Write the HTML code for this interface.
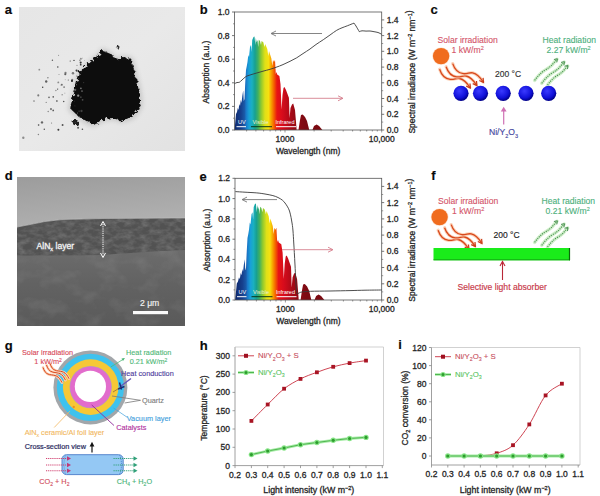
<!DOCTYPE html>
<html><head><meta charset="utf-8"><style>
html,body{margin:0;padding:0;background:#fff;}
svg{display:block;font-family:"Liberation Sans", sans-serif;}
</style></head><body>
<svg width="600" height="496" viewBox="0 0 600 496">
<rect width="600" height="496" fill="#fff"/>
<text x="4.8" y="14.0" font-size="13" fill="#0a0a0a" stroke="#0a0a0a" stroke-width="0.15" text-anchor="start" font-weight="bold" >a</text>
<text x="199.8" y="14.0" font-size="13" fill="#0a0a0a" stroke="#0a0a0a" stroke-width="0.15" text-anchor="start" font-weight="bold" >b</text>
<text x="430.6" y="14.0" font-size="13" fill="#0a0a0a" stroke="#0a0a0a" stroke-width="0.15" text-anchor="start" font-weight="bold" >c</text>
<text x="4.8" y="180.0" font-size="13" fill="#0a0a0a" stroke="#0a0a0a" stroke-width="0.15" text-anchor="start" font-weight="bold" >d</text>
<text x="199.6" y="180.5" font-size="13" fill="#0a0a0a" stroke="#0a0a0a" stroke-width="0.15" text-anchor="start" font-weight="bold" >e</text>
<text x="431.2" y="179.6" font-size="13" fill="#0a0a0a" stroke="#0a0a0a" stroke-width="0.15" text-anchor="start" font-weight="bold" >f</text>
<text x="4.8" y="349.8" font-size="13" fill="#0a0a0a" stroke="#0a0a0a" stroke-width="0.15" text-anchor="start" font-weight="bold" >g</text>
<text x="199.8" y="350.0" font-size="13" fill="#0a0a0a" stroke="#0a0a0a" stroke-width="0.15" text-anchor="start" font-weight="bold" >h</text>
<text x="398.2" y="349.2" font-size="13" fill="#0a0a0a" stroke="#0a0a0a" stroke-width="0.15" text-anchor="start" font-weight="bold" >i</text>
<defs><linearGradient id="bgA" x1="0" y1="0" x2="1" y2="1"><stop offset="0" stop-color="#e6e6e6"/><stop offset="0.5" stop-color="#e9e9e9"/><stop offset="1" stop-color="#e2e2e2"/></linearGradient><filter id="blur1"><feGaussianBlur stdDeviation="1.2"/></filter><filter id="blur05"><feGaussianBlur stdDeviation="0.5"/></filter><filter id="blur2"><feGaussianBlur stdDeviation="2.5"/></filter></defs>
<rect x="19" y="7" width="166" height="144" fill="url(#bgA)"/>
<defs><filter id="rough" x="-20%" y="-20%" width="140%" height="140%"><feTurbulence type="fractalNoise" baseFrequency="0.35" numOctaves="2" seed="4"/><feDisplacementMap in="SourceGraphic" scale="5"/><feGaussianBlur stdDeviation="0.5"/></filter></defs>
<polygon points="102.3,47.7 106.1,49.8 110.9,52.0 114.5,56.2 118.4,58.3 122.0,55.1 125.9,56.2 132.2,57.3 134.7,64.7 136.6,73.2 138.9,81.6 140.8,90.5 142.1,98.6 141.9,107.6 137.9,113.4 134.4,118.3 127.3,120.9 121.5,122.6 113.5,119.8 106.6,120.4 99.7,123.0 93.8,126.9 87.0,124.0 80.9,120.4 74.3,115.6 68.1,109.7 70.0,100.7 72.5,92.7 75.3,81.6 78.8,71.4 83.8,65.7 89.5,60.7 94.4,56.2 98.1,54.1" fill="#9a9a9a" opacity="0.45" filter="url(#blur2)"/>
<g filter="url(#rough)">
<polygon points="102.5,50.0 106.0,52.0 110.6,54.0 114.0,58.0 117.6,60.0 121.0,57.0 124.7,58.0 130.7,59.0 133.0,66.0 134.8,74.0 137.0,82.0 138.8,90.4 140.0,98.0 139.8,106.5 136.0,112.0 132.7,116.6 126.0,119.0 120.6,120.6 113.0,118.0 106.5,118.6 100.0,121.0 94.4,124.7 88.0,122.0 82.3,118.6 76.0,114.0 70.2,108.5 72.0,100.0 74.3,92.4 77.0,82.0 80.3,72.3 85.0,67.0 90.4,62.2 95.0,58.0 98.5,56.0" fill="#0c0c0c"/>
<circle cx="75.5" cy="122.5" r="2.8" fill="#202020"/>
<circle cx="118" cy="47" r="1.5" fill="#333"/>
<circle cx="101.8" cy="51.7" r="1.1" fill="#0e0e0e"/>
<circle cx="104.6" cy="52.9" r="0.9" fill="#0e0e0e"/>
<circle cx="104.5" cy="54.5" r="1.0" fill="#0e0e0e"/>
<circle cx="107.4" cy="56.0" r="1.2" fill="#0e0e0e"/>
<circle cx="111.4" cy="55.4" r="1.3" fill="#0e0e0e"/>
<circle cx="111.0" cy="57.8" r="1.5" fill="#0e0e0e"/>
<circle cx="113.7" cy="60.0" r="1.3" fill="#0e0e0e"/>
<circle cx="114.1" cy="61.0" r="1.3" fill="#0e0e0e"/>
<circle cx="116.5" cy="59.8" r="1.5" fill="#0e0e0e"/>
<circle cx="118.6" cy="60.4" r="1.5" fill="#0e0e0e"/>
<circle cx="121.0" cy="59.6" r="1.1" fill="#0e0e0e"/>
<circle cx="123.0" cy="58.6" r="1.5" fill="#0e0e0e"/>
<circle cx="125.0" cy="58.1" r="0.9" fill="#0e0e0e"/>
<circle cx="125.9" cy="61.2" r="1.1" fill="#0e0e0e"/>
<circle cx="130.1" cy="59.6" r="1.2" fill="#0e0e0e"/>
<circle cx="130.4" cy="63.2" r="1.3" fill="#0e0e0e"/>
<circle cx="132.1" cy="68.2" r="1.3" fill="#0e0e0e"/>
<circle cx="134.0" cy="71.9" r="1.6" fill="#0e0e0e"/>
<circle cx="134.1" cy="73.6" r="1.5" fill="#0e0e0e"/>
<circle cx="136.1" cy="79.7" r="1.3" fill="#0e0e0e"/>
<circle cx="136.4" cy="81.5" r="1.5" fill="#0e0e0e"/>
<circle cx="136.8" cy="85.7" r="0.9" fill="#0e0e0e"/>
<circle cx="138.5" cy="91.9" r="0.9" fill="#0e0e0e"/>
<circle cx="138.9" cy="93.8" r="0.9" fill="#0e0e0e"/>
<circle cx="138.0" cy="98.5" r="1.5" fill="#0e0e0e"/>
<circle cx="137.1" cy="102.1" r="0.8" fill="#0e0e0e"/>
<circle cx="139.1" cy="105.3" r="1.5" fill="#0e0e0e"/>
<circle cx="138.0" cy="108.5" r="1.6" fill="#0e0e0e"/>
<circle cx="134.2" cy="109.9" r="1.3" fill="#0e0e0e"/>
<circle cx="131.8" cy="112.4" r="1.1" fill="#0e0e0e"/>
<circle cx="131.9" cy="114.5" r="0.8" fill="#0e0e0e"/>
<circle cx="129.5" cy="116.1" r="1.6" fill="#0e0e0e"/>
<circle cx="126.3" cy="117.5" r="1.2" fill="#0e0e0e"/>
<circle cx="122.6" cy="119.0" r="1.3" fill="#0e0e0e"/>
<circle cx="120.2" cy="119.7" r="1.6" fill="#0e0e0e"/>
<circle cx="116.3" cy="117.9" r="1.4" fill="#0e0e0e"/>
<circle cx="111.9" cy="116.3" r="1.6" fill="#0e0e0e"/>
<circle cx="109.6" cy="117.3" r="0.8" fill="#0e0e0e"/>
<circle cx="106.2" cy="117.7" r="0.8" fill="#0e0e0e"/>
<circle cx="103.7" cy="119.0" r="0.8" fill="#0e0e0e"/>
<circle cx="100.6" cy="119.7" r="1.3" fill="#0e0e0e"/>
<circle cx="97.1" cy="122.2" r="1.4" fill="#0e0e0e"/>
<circle cx="93.4" cy="122.0" r="1.3" fill="#0e0e0e"/>
<circle cx="93.1" cy="121.3" r="1.2" fill="#0e0e0e"/>
<circle cx="89.0" cy="120.2" r="1.1" fill="#0e0e0e"/>
<circle cx="85.4" cy="118.7" r="1.3" fill="#0e0e0e"/>
<circle cx="82.6" cy="117.1" r="1.4" fill="#0e0e0e"/>
<circle cx="78.8" cy="115.5" r="1.4" fill="#0e0e0e"/>
<circle cx="76.6" cy="112.2" r="1.4" fill="#0e0e0e"/>
<circle cx="73.6" cy="109.5" r="1.1" fill="#0e0e0e"/>
<circle cx="72.2" cy="106.6" r="1.1" fill="#0e0e0e"/>
<circle cx="72.0" cy="104.7" r="1.2" fill="#0e0e0e"/>
<circle cx="74.4" cy="98.6" r="1.1" fill="#0e0e0e"/>
<circle cx="74.9" cy="97.1" r="1.2" fill="#0e0e0e"/>
<circle cx="74.7" cy="91.2" r="1.2" fill="#0e0e0e"/>
<circle cx="75.9" cy="88.2" r="1.5" fill="#0e0e0e"/>
<circle cx="77.2" cy="81.7" r="1.4" fill="#0e0e0e"/>
<circle cx="80.1" cy="78.6" r="1.1" fill="#0e0e0e"/>
<circle cx="80.2" cy="72.4" r="1.4" fill="#0e0e0e"/>
<circle cx="82.9" cy="70.0" r="1.1" fill="#0e0e0e"/>
<circle cx="85.6" cy="67.6" r="1.5" fill="#0e0e0e"/>
<circle cx="87.4" cy="64.1" r="1.6" fill="#0e0e0e"/>
<circle cx="92.1" cy="64.8" r="1.1" fill="#0e0e0e"/>
<circle cx="94.5" cy="62.6" r="1.0" fill="#0e0e0e"/>
<circle cx="96.1" cy="60.3" r="1.3" fill="#0e0e0e"/>
<circle cx="97.1" cy="57.7" r="1.1" fill="#0e0e0e"/>
<circle cx="97.9" cy="56.1" r="1.3" fill="#0e0e0e"/>
<circle cx="100.0" cy="55.4" r="0.8" fill="#0e0e0e"/>
</g>
<g filter="url(#blur05)">
<circle cx="51.6" cy="123.1" r="0.52" fill="rgb(108,108,108)"/>
<circle cx="77.0" cy="65.4" r="0.58" fill="rgb(143,143,143)"/>
<circle cx="75.1" cy="122.4" r="0.39" fill="rgb(101,101,101)"/>
<circle cx="82.4" cy="129.3" r="0.78" fill="rgb(80,80,80)"/>
<circle cx="46.2" cy="81.5" r="1.19" fill="rgb(94,94,94)"/>
<circle cx="38.3" cy="95.4" r="1.04" fill="rgb(124,124,124)"/>
<circle cx="74.7" cy="101.1" r="0.44" fill="rgb(80,80,80)"/>
<circle cx="76.6" cy="70.6" r="1.07" fill="rgb(55,55,55)"/>
<circle cx="65.2" cy="79.8" r="0.43" fill="rgb(138,138,138)"/>
<circle cx="56.9" cy="101.0" r="0.82" fill="rgb(52,52,52)"/>
<circle cx="79.9" cy="60.3" r="0.83" fill="rgb(145,145,145)"/>
<circle cx="82.0" cy="91.1" r="0.84" fill="rgb(106,106,106)"/>
<circle cx="58.4" cy="129.7" r="0.99" fill="rgb(58,58,58)"/>
<circle cx="58.3" cy="82.4" r="0.94" fill="rgb(139,139,139)"/>
<circle cx="74.9" cy="105.9" r="0.53" fill="rgb(42,42,42)"/>
<circle cx="38.6" cy="125.0" r="0.83" fill="rgb(70,70,70)"/>
<circle cx="42.0" cy="122.4" r="1.19" fill="rgb(101,101,101)"/>
<circle cx="65.5" cy="72.9" r="1.12" fill="rgb(123,123,123)"/>
<circle cx="75.1" cy="89.8" r="1.17" fill="rgb(99,99,99)"/>
<circle cx="70.2" cy="61.0" r="0.57" fill="rgb(64,64,64)"/>
<circle cx="38.4" cy="134.5" r="0.73" fill="rgb(133,133,133)"/>
<circle cx="49.0" cy="97.3" r="0.85" fill="rgb(102,102,102)"/>
<circle cx="46.2" cy="102.4" r="0.58" fill="rgb(125,125,125)"/>
<circle cx="64.1" cy="87.1" r="0.91" fill="rgb(125,125,125)"/>
<circle cx="62.6" cy="125.1" r="0.99" fill="rgb(83,83,83)"/>
<circle cx="63.7" cy="101.6" r="0.77" fill="rgb(85,85,85)"/>
<circle cx="79.1" cy="111.1" r="0.71" fill="rgb(78,78,78)"/>
<circle cx="62.1" cy="94.8" r="0.50" fill="rgb(48,48,48)"/>
<circle cx="57.7" cy="89.1" r="0.58" fill="rgb(46,46,46)"/>
<circle cx="80.9" cy="88.3" r="0.85" fill="rgb(121,121,121)"/>
<circle cx="77.5" cy="113.1" r="0.51" fill="rgb(121,121,121)"/>
<circle cx="34.0" cy="101.1" r="0.78" fill="rgb(122,122,122)"/>
<circle cx="80.7" cy="64.7" r="0.91" fill="rgb(59,59,59)"/>
<circle cx="79.5" cy="117.3" r="0.64" fill="rgb(143,143,143)"/>
<circle cx="65.3" cy="74.2" r="1.02" fill="rgb(92,92,92)"/>
<circle cx="48.2" cy="111.5" r="0.74" fill="rgb(136,136,136)"/>
<circle cx="64.9" cy="93.1" r="0.38" fill="rgb(72,72,72)"/>
<circle cx="59.0" cy="74.5" r="0.53" fill="rgb(140,140,140)"/>
<circle cx="53.2" cy="110.4" r="0.87" fill="rgb(96,96,96)"/>
<circle cx="52.4" cy="60.2" r="0.73" fill="rgb(92,92,92)"/>
<circle cx="76.8" cy="76.0" r="0.51" fill="rgb(82,82,82)"/>
<circle cx="60.6" cy="85.1" r="0.39" fill="rgb(133,133,133)"/>
<circle cx="83.6" cy="82.6" r="0.72" fill="rgb(51,51,51)"/>
<circle cx="58.7" cy="55.3" r="0.43" fill="rgb(61,61,61)"/>
<circle cx="53.2" cy="96.9" r="0.78" fill="rgb(82,82,82)"/>
<circle cx="80.7" cy="62.6" r="1.07" fill="rgb(54,54,54)"/>
<circle cx="80.9" cy="58.7" r="0.99" fill="rgb(145,145,145)"/>
<circle cx="42.7" cy="87.2" r="0.69" fill="rgb(53,53,53)"/>
<circle cx="73.0" cy="73.3" r="1.18" fill="rgb(122,122,122)"/>
<circle cx="51.0" cy="109.1" r="1.04" fill="rgb(116,116,116)"/>
<circle cx="72.5" cy="72.9" r="0.74" fill="rgb(133,133,133)"/>
<circle cx="61.8" cy="84.7" r="0.99" fill="rgb(110,110,110)"/>
<circle cx="74.0" cy="60.4" r="0.72" fill="rgb(72,72,72)"/>
<circle cx="80.9" cy="97.1" r="0.70" fill="rgb(115,115,115)"/>
<circle cx="68.3" cy="80.0" r="0.60" fill="rgb(92,92,92)"/>
<circle cx="72.2" cy="79.7" r="1.04" fill="rgb(121,121,121)"/>
<circle cx="44.3" cy="129.2" r="0.74" fill="rgb(85,85,85)"/>
<circle cx="72.0" cy="80.9" r="1.04" fill="rgb(41,41,41)"/>
<circle cx="23.3" cy="137.7" r="1.19" fill="rgb(141,141,141)"/>
<circle cx="82.7" cy="58.1" r="0.36" fill="rgb(95,95,95)"/>
<circle cx="78.1" cy="127.7" r="1.04" fill="rgb(97,97,97)"/>
<circle cx="47.9" cy="77.7" r="0.72" fill="rgb(120,120,120)"/>
<circle cx="74.2" cy="90.9" r="0.64" fill="rgb(57,57,57)"/>
<circle cx="39.3" cy="69.7" r="0.90" fill="rgb(144,144,144)"/>
<circle cx="78.2" cy="95.7" r="1.14" fill="rgb(144,144,144)"/>
<circle cx="82.6" cy="99.8" r="0.89" fill="rgb(77,77,77)"/>
<circle cx="55.9" cy="90.5" r="0.74" fill="rgb(142,142,142)"/>
<circle cx="57.8" cy="67.1" r="0.76" fill="rgb(69,69,69)"/>
<circle cx="81.5" cy="111.0" r="1.13" fill="rgb(63,63,63)"/>
</g>
<defs><linearGradient id="semTop" x1="0" y1="0" x2="0.3" y2="1"><stop offset="0" stop-color="#9c9c9c"/><stop offset="1" stop-color="#b0b0b0"/></linearGradient><filter id="noiseL" x="0" y="0" width="100%" height="100%"><feTurbulence type="fractalNoise" baseFrequency="0.12 0.2" numOctaves="3" seed="7"/><feColorMatrix type="matrix" values="0 0 0 0 0.5  0 0 0 0 0.5  0 0 0 0 0.5  1.6 0 0 0 -0.55"/><feComposite in2="SourceGraphic" operator="in"/></filter><filter id="noiseS" x="0" y="0" width="100%" height="100%"><feTurbulence type="fractalNoise" baseFrequency="0.05 0.07" numOctaves="3" seed="11"/><feColorMatrix type="matrix" values="0 0 0 0 0.55  0 0 0 0 0.55  0 0 0 0 0.55  1.4 0 0 0 -0.6"/><feComposite in2="SourceGraphic" operator="in"/></filter><clipPath id="clipLayer"><path d="M17,227 L30,224.5 L45,221.5 L62,219.5 L100,218.5 L140,218.3 L170,218 L185,218 V250 L160,251 L130,253 L100,255 L60,255.5 L17,255.5 Z"/></clipPath><clipPath id="clipSub"><path d="M17,255.5 L60,255.5 L100,255 L130,253 L160,251 L185,250 V326 H17 Z"/></clipPath></defs>
<rect x="17" y="177" width="168" height="149" fill="#5f5f5f"/>
<defs><linearGradient id="subG" x1="0" y1="0" x2="0" y2="1"><stop offset="0" stop-color="#6c6c6c"/><stop offset="0.45" stop-color="#626262"/><stop offset="1" stop-color="#5a5a5a"/></linearGradient></defs>
<rect x="17" y="250" width="168" height="76" fill="url(#subG)"/>
<g clip-path="url(#clipSub)"><rect x="17" y="250" width="168" height="76" fill="#fff" filter="url(#noiseS)" opacity="0.2"/></g>
<path d="M17,177 H185 V218 L170,218 L140,218.3 L100,218.5 L62,219.5 L45,221.5 L30,224.5 L17,227 Z" fill="url(#semTop)"/>
<path d="M17,227 L30,224.5 L45,221.5 L62,219.5 L100,218.5 L140,218.3 L170,218 L185,218 V250 L160,251 L130,253 L100,255 L60,255.5 L17,255.5 Z" fill="#525252"/>
<g clip-path="url(#clipLayer)"><rect x="17" y="212" width="168" height="46" fill="#fff" filter="url(#noiseL)" opacity="0.35"/></g>
<path d="M17,227 L30,224.5 L45,221.5 L62,219.5 L100,218.5 L140,218.3 L170,218 L185,218" fill="none" stroke="#bcbcbc" stroke-width="1" opacity="0.7"/>
<text x="36.5" y="248.5" font-size="8.6" fill="#f4f4f4" stroke="#f4f4f4" stroke-width="0.3" text-anchor="start" font-weight="normal" >AlN<tspan font-size="5.5" dy="2">x</tspan><tspan dy="-2"> layer</tspan></text>
<line x1="103" y1="224" x2="103" y2="255" stroke="#fff" stroke-width="1" stroke-dasharray="1.2,1"/>
<path d="M100.5,226 L103,221.5 L105.5,226" fill="none" stroke="#fff" stroke-width="1"/>
<path d="M100.5,253 L103,257.5 L105.5,253" fill="none" stroke="#fff" stroke-width="1"/>
<rect x="133" y="311" width="35" height="3.2" fill="#fafafa"/>
<text x="140.0" y="305.8" font-size="8.6" fill="#f4f4f4" stroke="#f4f4f4" stroke-width="0.15" text-anchor="start" font-weight="normal" >2 μm</text>
<defs><linearGradient id="specB" gradientUnits="userSpaceOnUse" x1="234.5" y1="0" x2="381.7" y2="0"><stop offset="0.0000" stop-color="#0f2a6e"/><stop offset="0.0442" stop-color="#16408e"/><stop offset="0.0679" stop-color="#1a5aa8"/><stop offset="0.0781" stop-color="#1a78c8"/><stop offset="0.0985" stop-color="#18a0d8"/><stop offset="0.1189" stop-color="#1ab0c0"/><stop offset="0.1393" stop-color="#18a090"/><stop offset="0.1596" stop-color="#40b060"/><stop offset="0.1800" stop-color="#8cc830"/><stop offset="0.2072" stop-color="#dfe018"/><stop offset="0.2310" stop-color="#f6e010"/><stop offset="0.2480" stop-color="#f7a800"/><stop offset="0.2683" stop-color="#f46000"/><stop offset="0.2887" stop-color="#e81414"/><stop offset="0.3227" stop-color="#d80c1c"/><stop offset="0.3702" stop-color="#b40a18"/><stop offset="0.4110" stop-color="#940a14"/><stop offset="0.4789" stop-color="#7c0a12"/><stop offset="1.0000" stop-color="#7c0a12"/></linearGradient></defs>
<polygon points="234.5,130.0 235.3,122.0 236.0,114.0 237.0,112.0 237.8,108.0 238.5,110.0 239.3,104.0 240.0,106.0 240.8,100.0 241.5,103.0 242.3,96.0 243.2,90.5 243.8,101.0 244.5,99.0 245.3,82.0 246.0,70.0 246.8,66.0 247.5,62.0 248.3,55.0 249.0,57.0 250.0,47.0 251.0,45.0 251.6,52.0 252.2,40.0 253.5,37.0 254.5,36.5 255.3,45.0 255.8,38.0 256.7,42.3 257.5,40.0 258.2,47.0 258.8,39.7 260.0,41.0 261.0,45.0 261.6,41.0 263.3,42.3 264.5,47.0 265.2,44.0 267.3,49.0 268.3,56.0 269.0,51.0 271.3,58.3 272.3,66.0 273.0,60.0 274.0,62.0 275.0,60.0 275.8,74.0 276.5,72.0 277.2,74.5 279.4,76.0 280.5,84.0 281.6,109.4 282.5,95.0 283.5,88.0 284.5,86.9 286.0,90.0 288.9,97.8 289.6,118.0 290.5,108.0 292.0,104.5 293.2,103.6 295.0,110.0 296.0,122.0 296.6,129.7 298.5,129.7 300.0,120.0 301.0,115.0 302.7,114.5 305.0,117.0 307.0,121.0 309.2,129.7 312.5,129.7 314.0,126.0 316.6,124.6 319.1,126.0 322.4,130.0 322.4,130.0 234.5,130.0" fill="url(#specB)"/>
<text x="238.0" y="123.5" font-size="5.5" fill="#fff">UV</text>
<text x="252.5" y="123.5" font-size="5.5" fill="#e8f0d0">Visible</text>
<text x="275.5" y="123.5" font-size="5.5" fill="#fff">Infrared</text>
<line x1="236.5" y1="126.7" x2="246.0" y2="126.7" stroke="#fff" stroke-width="1"/>
<line x1="251.0" y1="126.7" x2="272.0" y2="126.7" stroke="#0c3818" stroke-width="1"/>
<line x1="276.0" y1="126.7" x2="296.0" y2="126.7" stroke="#fff" stroke-width="1"/>
<rect x="234.5" y="12" width="147.2" height="118" fill="none" stroke="#555" stroke-width="0.8"/>
<line x1="232.0" y1="130.0" x2="234.5" y2="130.0" stroke="#555" stroke-width="0.8"/>
<text x="229.5" y="133.0" font-size="8.5" fill="#262626" stroke="#262626" stroke-width="0.3" text-anchor="end" font-weight="normal" >0.0</text>
<line x1="232.0" y1="106.4" x2="234.5" y2="106.4" stroke="#555" stroke-width="0.8"/>
<text x="229.5" y="109.4" font-size="8.5" fill="#262626" stroke="#262626" stroke-width="0.3" text-anchor="end" font-weight="normal" >0.2</text>
<line x1="232.0" y1="82.8" x2="234.5" y2="82.8" stroke="#555" stroke-width="0.8"/>
<text x="229.5" y="85.8" font-size="8.5" fill="#262626" stroke="#262626" stroke-width="0.3" text-anchor="end" font-weight="normal" >0.4</text>
<line x1="232.0" y1="59.2" x2="234.5" y2="59.2" stroke="#555" stroke-width="0.8"/>
<text x="229.5" y="62.2" font-size="8.5" fill="#262626" stroke="#262626" stroke-width="0.3" text-anchor="end" font-weight="normal" >0.6</text>
<line x1="232.0" y1="35.6" x2="234.5" y2="35.6" stroke="#555" stroke-width="0.8"/>
<text x="229.5" y="38.6" font-size="8.5" fill="#262626" stroke="#262626" stroke-width="0.3" text-anchor="end" font-weight="normal" >0.8</text>
<line x1="232.0" y1="12.0" x2="234.5" y2="12.0" stroke="#555" stroke-width="0.8"/>
<text x="229.5" y="15.0" font-size="8.5" fill="#262626" stroke="#262626" stroke-width="0.3" text-anchor="end" font-weight="normal" >1.0</text>
<line x1="233.0" y1="118.2" x2="234.5" y2="118.2" stroke="#555" stroke-width="0.6"/>
<line x1="233.0" y1="94.6" x2="234.5" y2="94.6" stroke="#555" stroke-width="0.6"/>
<line x1="233.0" y1="71.0" x2="234.5" y2="71.0" stroke="#555" stroke-width="0.6"/>
<line x1="233.0" y1="47.4" x2="234.5" y2="47.4" stroke="#555" stroke-width="0.6"/>
<line x1="233.0" y1="23.8" x2="234.5" y2="23.8" stroke="#555" stroke-width="0.6"/>
<line x1="381.7" y1="130.0" x2="384.2" y2="130.0" stroke="#555" stroke-width="0.8"/>
<text x="386.7" y="133.0" font-size="8.5" fill="#262626" stroke="#262626" stroke-width="0.3" text-anchor="start" font-weight="normal" >0.0</text>
<line x1="381.7" y1="114.3" x2="384.2" y2="114.3" stroke="#555" stroke-width="0.8"/>
<text x="386.7" y="117.3" font-size="8.5" fill="#262626" stroke="#262626" stroke-width="0.3" text-anchor="start" font-weight="normal" >0.2</text>
<line x1="381.7" y1="98.5" x2="384.2" y2="98.5" stroke="#555" stroke-width="0.8"/>
<text x="386.7" y="101.5" font-size="8.5" fill="#262626" stroke="#262626" stroke-width="0.3" text-anchor="start" font-weight="normal" >0.4</text>
<line x1="381.7" y1="82.8" x2="384.2" y2="82.8" stroke="#555" stroke-width="0.8"/>
<text x="386.7" y="85.8" font-size="8.5" fill="#262626" stroke="#262626" stroke-width="0.3" text-anchor="start" font-weight="normal" >0.6</text>
<line x1="381.7" y1="67.1" x2="384.2" y2="67.1" stroke="#555" stroke-width="0.8"/>
<text x="386.7" y="70.1" font-size="8.5" fill="#262626" stroke="#262626" stroke-width="0.3" text-anchor="start" font-weight="normal" >0.8</text>
<line x1="381.7" y1="51.3" x2="384.2" y2="51.3" stroke="#555" stroke-width="0.8"/>
<text x="386.7" y="54.3" font-size="8.5" fill="#262626" stroke="#262626" stroke-width="0.3" text-anchor="start" font-weight="normal" >1.0</text>
<line x1="381.7" y1="35.6" x2="384.2" y2="35.6" stroke="#555" stroke-width="0.8"/>
<text x="386.7" y="38.6" font-size="8.5" fill="#262626" stroke="#262626" stroke-width="0.3" text-anchor="start" font-weight="normal" >1.2</text>
<line x1="381.7" y1="19.9" x2="384.2" y2="19.9" stroke="#555" stroke-width="0.8"/>
<text x="386.7" y="22.9" font-size="8.5" fill="#262626" stroke="#262626" stroke-width="0.3" text-anchor="start" font-weight="normal" >1.4</text>
<line x1="381.7" y1="122.1" x2="383.2" y2="122.1" stroke="#555" stroke-width="0.6"/>
<line x1="381.7" y1="106.4" x2="383.2" y2="106.4" stroke="#555" stroke-width="0.6"/>
<line x1="381.7" y1="90.7" x2="383.2" y2="90.7" stroke="#555" stroke-width="0.6"/>
<line x1="381.7" y1="74.9" x2="383.2" y2="74.9" stroke="#555" stroke-width="0.6"/>
<line x1="381.7" y1="59.2" x2="383.2" y2="59.2" stroke="#555" stroke-width="0.6"/>
<line x1="381.7" y1="43.5" x2="383.2" y2="43.5" stroke="#555" stroke-width="0.6"/>
<line x1="381.7" y1="27.7" x2="383.2" y2="27.7" stroke="#555" stroke-width="0.6"/>
<line x1="246.6" y1="130" x2="246.6" y2="131.5" stroke="#555" stroke-width="0.6"/>
<line x1="255.9" y1="130" x2="255.9" y2="131.5" stroke="#555" stroke-width="0.6"/>
<line x1="263.6" y1="130" x2="263.6" y2="131.5" stroke="#555" stroke-width="0.6"/>
<line x1="270.1" y1="130" x2="270.1" y2="131.5" stroke="#555" stroke-width="0.6"/>
<line x1="275.7" y1="130" x2="275.7" y2="131.5" stroke="#555" stroke-width="0.6"/>
<line x1="280.6" y1="130" x2="280.6" y2="131.5" stroke="#555" stroke-width="0.6"/>
<line x1="285.0" y1="130" x2="285.0" y2="132.5" stroke="#555" stroke-width="0.6"/>
<line x1="314.1" y1="130" x2="314.1" y2="131.5" stroke="#555" stroke-width="0.6"/>
<line x1="331.2" y1="130" x2="331.2" y2="131.5" stroke="#555" stroke-width="0.6"/>
<line x1="343.2" y1="130" x2="343.2" y2="131.5" stroke="#555" stroke-width="0.6"/>
<line x1="352.6" y1="130" x2="352.6" y2="131.5" stroke="#555" stroke-width="0.6"/>
<line x1="360.3" y1="130" x2="360.3" y2="131.5" stroke="#555" stroke-width="0.6"/>
<line x1="366.7" y1="130" x2="366.7" y2="131.5" stroke="#555" stroke-width="0.6"/>
<line x1="372.3" y1="130" x2="372.3" y2="131.5" stroke="#555" stroke-width="0.6"/>
<line x1="377.3" y1="130" x2="377.3" y2="131.5" stroke="#555" stroke-width="0.6"/>
<line x1="381.7" y1="130" x2="381.7" y2="132.5" stroke="#555" stroke-width="0.6"/>
<text x="285.0" y="142.0" font-size="8.5" fill="#262626" stroke="#262626" stroke-width="0.3" text-anchor="middle" font-weight="normal" >1000</text>
<text x="381.7" y="142.0" font-size="8.5" fill="#262626" stroke="#262626" stroke-width="0.3" text-anchor="middle" font-weight="normal" >10,000</text>
<text x="308.1" y="154.0" font-size="8.5" fill="#262626" stroke="#262626" stroke-width="0.3" text-anchor="middle" font-weight="normal" >Wavelength (nm)</text>
<text transform="translate(209.0,72.0) rotate(-90)" font-size="8.5" fill="#262626" stroke="#262626" stroke-width="0.3" text-anchor="middle">Absorption (a.u.)</text>
<text transform="translate(414.7,72.0) rotate(-90)" font-size="8.5" fill="#262626" stroke="#262626" stroke-width="0.3" text-anchor="middle">Spectral irradiance (W m<tspan font-size="5.5" dy="-3">−2</tspan><tspan dy="3"> nm</tspan><tspan font-size="5.5" dy="-3">−1</tspan>)</text>
<path d="M234.50,83.70 C234.92,83.50 236.20,82.73 237.00,82.50 C237.80,82.27 238.47,82.72 239.30,82.30 C240.13,81.88 240.88,80.97 242.00,80.00 C243.12,79.03 244.67,77.33 246.00,76.50 C247.33,75.67 248.22,75.58 250.00,75.00 C251.78,74.42 254.53,73.63 256.70,73.00 C258.87,72.37 260.78,71.82 263.00,71.20 C265.22,70.58 267.83,69.95 270.00,69.30 C272.17,68.65 273.83,68.08 276.00,67.30 C278.17,66.52 280.67,65.60 283.00,64.60 C285.33,63.60 287.72,62.43 290.00,61.30 C292.28,60.17 294.53,59.08 296.70,57.80 C298.87,56.52 300.78,55.07 303.00,53.60 C305.22,52.13 307.83,50.52 310.00,49.00 C312.17,47.48 313.78,46.05 316.00,44.50 C318.22,42.95 320.97,41.28 323.30,39.70 C325.63,38.12 327.77,36.57 330.00,35.00 C332.23,33.43 334.70,31.50 336.70,30.30 C338.70,29.10 340.23,28.55 342.00,27.80 C343.77,27.05 345.80,26.38 347.30,25.80 C348.80,25.22 349.88,24.75 351.00,24.30 C352.12,23.85 353.50,23.30 354.00,23.10 C354.33,23.58 355.67,25.52 356.00,26.00 C356.55,26.95 358.75,30.75 359.30,31.70 C359.75,31.55 360.88,30.90 362.00,30.80 C363.12,30.70 364.67,31.07 366.00,31.10 C367.33,31.13 368.67,30.90 370.00,31.00 C371.33,31.10 372.67,31.45 374.00,31.70 C375.33,31.95 376.72,32.07 378.00,32.50 C379.28,32.93 381.08,34.00 381.70,34.30" fill="none" stroke="#3a3a3a" stroke-width="0.9"/>
<line x1="322" y1="33.5" x2="272" y2="33.5" stroke="#666" stroke-width="0.8"/>
<path d="M276,31 L271,33.5 L276,36" fill="none" stroke="#666" stroke-width="0.8"/>
<line x1="293" y1="98.3" x2="342" y2="98.3" stroke="#d07080" stroke-width="0.8"/>
<path d="M338,95.8 L343,98.3 L338,100.8" fill="none" stroke="#d07080" stroke-width="0.8"/>
<defs><linearGradient id="specE" gradientUnits="userSpaceOnUse" x1="236.0" y1="0" x2="383.2" y2="0"><stop offset="0.0000" stop-color="#0f2a6e"/><stop offset="0.0442" stop-color="#16408e"/><stop offset="0.0679" stop-color="#1a5aa8"/><stop offset="0.0781" stop-color="#1a78c8"/><stop offset="0.0985" stop-color="#18a0d8"/><stop offset="0.1189" stop-color="#1ab0c0"/><stop offset="0.1393" stop-color="#18a090"/><stop offset="0.1596" stop-color="#40b060"/><stop offset="0.1800" stop-color="#8cc830"/><stop offset="0.2072" stop-color="#dfe018"/><stop offset="0.2310" stop-color="#f6e010"/><stop offset="0.2480" stop-color="#f7a800"/><stop offset="0.2683" stop-color="#f46000"/><stop offset="0.2887" stop-color="#e81414"/><stop offset="0.3227" stop-color="#d80c1c"/><stop offset="0.3702" stop-color="#b40a18"/><stop offset="0.4110" stop-color="#940a14"/><stop offset="0.4789" stop-color="#7c0a12"/><stop offset="1.0000" stop-color="#7c0a12"/></linearGradient></defs>
<polygon points="235.0,300.0 236.0,291.7 236.8,283.5 238.0,281.4 239.0,277.3 239.8,279.3 240.7,273.1 241.5,275.2 242.3,269.0 243.0,272.1 243.8,264.9 244.7,259.2 245.3,270.0 246.0,268.0 246.8,250.4 247.5,238.0 248.3,233.9 249.0,229.7 249.8,222.5 250.5,224.6 251.5,214.2 252.5,212.2 253.1,219.4 253.7,207.0 254.9,203.9 255.9,203.4 256.7,212.2 257.2,204.9 258.1,209.4 258.9,207.0 259.6,214.2 260.2,206.7 261.4,208.0 262.4,212.2 263.0,208.0 264.7,209.4 265.9,214.2 266.6,211.1 268.7,216.3 269.7,223.5 270.4,218.4 272.7,225.9 273.7,233.9 274.4,227.7 275.4,229.7 276.4,227.7 277.2,242.1 278.0,240.1 278.8,242.6 281.3,244.2 282.6,252.5 283.8,278.7 284.7,263.8 285.7,256.6 286.7,255.5 288.2,258.7 291.0,266.7 291.7,287.6 292.6,277.3 294.1,273.6 295.3,272.7 297.1,279.3 298.1,291.7 298.7,299.7 300.6,299.7 302.1,289.7 303.1,284.5 304.8,284.0 307.1,286.6 309.1,290.7 311.3,299.7 314.6,299.7 316.1,295.9 318.6,294.4 321.1,295.9 324.4,300.0 324.4,300.0 235.0,300.0" fill="url(#specE)"/>
<text x="238.5" y="293.5" font-size="5.5" fill="#fff">UV</text>
<text x="253.0" y="293.5" font-size="5.5" fill="#e8f0d0">Visible</text>
<text x="276.0" y="293.5" font-size="5.5" fill="#fff">Infrared</text>
<line x1="237.0" y1="296.7" x2="246.5" y2="296.7" stroke="#fff" stroke-width="1"/>
<line x1="251.5" y1="296.7" x2="272.5" y2="296.7" stroke="#0c3818" stroke-width="1"/>
<line x1="276.5" y1="296.7" x2="296.5" y2="296.7" stroke="#fff" stroke-width="1"/>
<rect x="235" y="178.3" width="146.7" height="121.69999999999999" fill="none" stroke="#555" stroke-width="0.8"/>
<line x1="232.5" y1="300.0" x2="235" y2="300.0" stroke="#555" stroke-width="0.8"/>
<text x="230.0" y="303.0" font-size="8.5" fill="#262626" stroke="#262626" stroke-width="0.3" text-anchor="end" font-weight="normal" >0.0</text>
<line x1="232.5" y1="279.7" x2="235" y2="279.7" stroke="#555" stroke-width="0.8"/>
<text x="230.0" y="282.7" font-size="8.5" fill="#262626" stroke="#262626" stroke-width="0.3" text-anchor="end" font-weight="normal" >0.2</text>
<line x1="232.5" y1="259.4" x2="235" y2="259.4" stroke="#555" stroke-width="0.8"/>
<text x="230.0" y="262.4" font-size="8.5" fill="#262626" stroke="#262626" stroke-width="0.3" text-anchor="end" font-weight="normal" >0.4</text>
<line x1="232.5" y1="239.2" x2="235" y2="239.2" stroke="#555" stroke-width="0.8"/>
<text x="230.0" y="242.2" font-size="8.5" fill="#262626" stroke="#262626" stroke-width="0.3" text-anchor="end" font-weight="normal" >0.6</text>
<line x1="232.5" y1="218.9" x2="235" y2="218.9" stroke="#555" stroke-width="0.8"/>
<text x="230.0" y="221.9" font-size="8.5" fill="#262626" stroke="#262626" stroke-width="0.3" text-anchor="end" font-weight="normal" >0.8</text>
<line x1="232.5" y1="198.6" x2="235" y2="198.6" stroke="#555" stroke-width="0.8"/>
<text x="230.0" y="201.6" font-size="8.5" fill="#262626" stroke="#262626" stroke-width="0.3" text-anchor="end" font-weight="normal" >1.0</text>
<line x1="232.5" y1="178.3" x2="235" y2="178.3" stroke="#555" stroke-width="0.8"/>
<text x="230.0" y="181.3" font-size="8.5" fill="#262626" stroke="#262626" stroke-width="0.3" text-anchor="end" font-weight="normal" >1.2</text>
<line x1="233.5" y1="289.9" x2="235" y2="289.9" stroke="#555" stroke-width="0.6"/>
<line x1="233.5" y1="269.6" x2="235" y2="269.6" stroke="#555" stroke-width="0.6"/>
<line x1="233.5" y1="249.3" x2="235" y2="249.3" stroke="#555" stroke-width="0.6"/>
<line x1="233.5" y1="229.0" x2="235" y2="229.0" stroke="#555" stroke-width="0.6"/>
<line x1="233.5" y1="208.7" x2="235" y2="208.7" stroke="#555" stroke-width="0.6"/>
<line x1="233.5" y1="188.4" x2="235" y2="188.4" stroke="#555" stroke-width="0.6"/>
<line x1="381.7" y1="300.0" x2="384.2" y2="300.0" stroke="#555" stroke-width="0.8"/>
<text x="386.7" y="303.0" font-size="8.5" fill="#262626" stroke="#262626" stroke-width="0.3" text-anchor="start" font-weight="normal" >0.0</text>
<line x1="381.7" y1="283.8" x2="384.2" y2="283.8" stroke="#555" stroke-width="0.8"/>
<text x="386.7" y="286.8" font-size="8.5" fill="#262626" stroke="#262626" stroke-width="0.3" text-anchor="start" font-weight="normal" >0.2</text>
<line x1="381.7" y1="267.5" x2="384.2" y2="267.5" stroke="#555" stroke-width="0.8"/>
<text x="386.7" y="270.5" font-size="8.5" fill="#262626" stroke="#262626" stroke-width="0.3" text-anchor="start" font-weight="normal" >0.4</text>
<line x1="381.7" y1="251.3" x2="384.2" y2="251.3" stroke="#555" stroke-width="0.8"/>
<text x="386.7" y="254.3" font-size="8.5" fill="#262626" stroke="#262626" stroke-width="0.3" text-anchor="start" font-weight="normal" >0.6</text>
<line x1="381.7" y1="235.1" x2="384.2" y2="235.1" stroke="#555" stroke-width="0.8"/>
<text x="386.7" y="238.1" font-size="8.5" fill="#262626" stroke="#262626" stroke-width="0.3" text-anchor="start" font-weight="normal" >0.8</text>
<line x1="381.7" y1="218.9" x2="384.2" y2="218.9" stroke="#555" stroke-width="0.8"/>
<text x="386.7" y="221.9" font-size="8.5" fill="#262626" stroke="#262626" stroke-width="0.3" text-anchor="start" font-weight="normal" >1.0</text>
<line x1="381.7" y1="202.6" x2="384.2" y2="202.6" stroke="#555" stroke-width="0.8"/>
<text x="386.7" y="205.6" font-size="8.5" fill="#262626" stroke="#262626" stroke-width="0.3" text-anchor="start" font-weight="normal" >1.2</text>
<line x1="381.7" y1="186.4" x2="384.2" y2="186.4" stroke="#555" stroke-width="0.8"/>
<text x="386.7" y="189.4" font-size="8.5" fill="#262626" stroke="#262626" stroke-width="0.3" text-anchor="start" font-weight="normal" >1.4</text>
<line x1="381.7" y1="291.9" x2="383.2" y2="291.9" stroke="#555" stroke-width="0.6"/>
<line x1="381.7" y1="275.7" x2="383.2" y2="275.7" stroke="#555" stroke-width="0.6"/>
<line x1="381.7" y1="259.4" x2="383.2" y2="259.4" stroke="#555" stroke-width="0.6"/>
<line x1="381.7" y1="243.2" x2="383.2" y2="243.2" stroke="#555" stroke-width="0.6"/>
<line x1="381.7" y1="227.0" x2="383.2" y2="227.0" stroke="#555" stroke-width="0.6"/>
<line x1="381.7" y1="210.8" x2="383.2" y2="210.8" stroke="#555" stroke-width="0.6"/>
<line x1="381.7" y1="194.5" x2="383.2" y2="194.5" stroke="#555" stroke-width="0.6"/>
<line x1="247.0" y1="300" x2="247.0" y2="301.5" stroke="#555" stroke-width="0.6"/>
<line x1="256.4" y1="300" x2="256.4" y2="301.5" stroke="#555" stroke-width="0.6"/>
<line x1="264.0" y1="300" x2="264.0" y2="301.5" stroke="#555" stroke-width="0.6"/>
<line x1="270.4" y1="300" x2="270.4" y2="301.5" stroke="#555" stroke-width="0.6"/>
<line x1="276.0" y1="300" x2="276.0" y2="301.5" stroke="#555" stroke-width="0.6"/>
<line x1="281.0" y1="300" x2="281.0" y2="301.5" stroke="#555" stroke-width="0.6"/>
<line x1="285.4" y1="300" x2="285.4" y2="302.5" stroke="#555" stroke-width="0.6"/>
<line x1="314.4" y1="300" x2="314.4" y2="301.5" stroke="#555" stroke-width="0.6"/>
<line x1="331.3" y1="300" x2="331.3" y2="301.5" stroke="#555" stroke-width="0.6"/>
<line x1="343.4" y1="300" x2="343.4" y2="301.5" stroke="#555" stroke-width="0.6"/>
<line x1="352.7" y1="300" x2="352.7" y2="301.5" stroke="#555" stroke-width="0.6"/>
<line x1="360.3" y1="300" x2="360.3" y2="301.5" stroke="#555" stroke-width="0.6"/>
<line x1="366.8" y1="300" x2="366.8" y2="301.5" stroke="#555" stroke-width="0.6"/>
<line x1="372.4" y1="300" x2="372.4" y2="301.5" stroke="#555" stroke-width="0.6"/>
<line x1="377.3" y1="300" x2="377.3" y2="301.5" stroke="#555" stroke-width="0.6"/>
<line x1="381.7" y1="300" x2="381.7" y2="302.5" stroke="#555" stroke-width="0.6"/>
<text x="285.4" y="312.0" font-size="8.5" fill="#262626" stroke="#262626" stroke-width="0.3" text-anchor="middle" font-weight="normal" >1000</text>
<text x="381.7" y="312.0" font-size="8.5" fill="#262626" stroke="#262626" stroke-width="0.3" text-anchor="middle" font-weight="normal" >10,000</text>
<text x="308.4" y="324.0" font-size="8.5" fill="#262626" stroke="#262626" stroke-width="0.3" text-anchor="middle" font-weight="normal" >Wavelength (nm)</text>
<text transform="translate(209.5,240.15) rotate(-90)" font-size="8.5" fill="#262626" stroke="#262626" stroke-width="0.3" text-anchor="middle">Absorption (a.u.)</text>
<text transform="translate(414.7,240.15) rotate(-90)" font-size="8.5" fill="#262626" stroke="#262626" stroke-width="0.3" text-anchor="middle">Spectral irradiance (W m<tspan font-size="5.5" dy="-3">−2</tspan><tspan dy="3"> nm</tspan><tspan font-size="5.5" dy="-3">−1</tspan>)</text>
<path d="M235.40,191.60 C237.00,191.70 241.43,191.98 245.00,192.20 C248.57,192.42 253.47,192.60 256.80,192.90 C260.13,193.20 262.32,193.55 265.00,194.00 C267.68,194.45 270.73,195.02 272.90,195.60 C275.07,196.18 276.43,196.75 278.00,197.50 C279.57,198.25 281.13,199.18 282.30,200.10 C283.47,201.02 284.12,201.87 285.00,203.00 C285.88,204.13 286.85,205.57 287.60,206.90 C288.35,208.23 288.92,209.22 289.50,211.00 C290.08,212.78 290.65,215.43 291.10,217.60 C291.55,219.77 291.88,221.77 292.20,224.00 C292.52,226.23 292.75,228.00 293.00,231.00 C293.25,234.00 293.48,238.43 293.70,242.00 C293.92,245.57 294.08,248.57 294.30,252.40 C294.52,256.23 294.77,260.53 295.00,265.00 C295.23,269.47 295.47,275.03 295.70,279.20 C295.93,283.37 296.18,287.53 296.40,290.00 C296.62,292.47 296.90,293.33 297.00,294.00 C297.33,293.83 298.17,293.33 299.00,293.00 C299.83,292.67 300.10,292.28 302.00,292.00 C303.90,291.72 305.73,291.47 310.40,291.30 C315.07,291.13 323.40,291.12 330.00,291.00 C336.60,290.88 344.17,290.73 350.00,290.60 C355.83,290.47 359.72,290.30 365.00,290.20 C370.28,290.10 378.92,290.03 381.70,290.00" fill="none" stroke="#3a3a3a" stroke-width="0.9"/>
<line x1="277" y1="199.6" x2="243" y2="199.6" stroke="#666" stroke-width="0.8"/>
<path d="M247,197.1 L242,199.6 L247,202.1" fill="none" stroke="#666" stroke-width="0.8"/>
<line x1="282" y1="249.7" x2="332" y2="249.7" stroke="#d07080" stroke-width="0.8"/>
<path d="M328,247.2 L333,249.7 L328,252.2" fill="none" stroke="#d07080" stroke-width="0.8"/>
<circle cx="441.1" cy="56.1" r="8.9" fill="#fbd6bc" opacity="0.6"/>
<circle cx="441.1" cy="56.1" r="8.2" fill="#f06c1e"/>
<path d="M439.6,69.2 c1.50,4.50 4.50,9.50 10.60,10.10 c4.40,0.40 6.40,-1.60 9.40,-0.80 c4.00,1.00 7.00,3.70 10.20,8.80" fill="none" stroke="#fcd2b8" stroke-width="3.2" stroke-linecap="round"/>
<path d="M439.6,69.2 c1.50,4.50 4.50,9.50 10.60,10.10 c4.40,0.40 6.40,-1.60 9.40,-0.80 c4.00,1.00 7.00,3.70 10.20,8.80" fill="none" stroke="#d8481c" stroke-width="1.3"/>
<path d="M466.2,86.1 L470.4,88.1 L470.0,83.5" fill="none" stroke="#c83a18" stroke-width="1.2"/>
<path d="M446.1,66.7 c1.50,4.50 4.50,9.50 10.60,10.10 c4.40,0.40 6.40,-1.60 9.40,-0.80 c4.00,1.00 7.00,3.70 10.20,8.80" fill="none" stroke="#fcd2b8" stroke-width="3.2" stroke-linecap="round"/>
<path d="M446.1,66.7 c1.50,4.50 4.50,9.50 10.60,10.10 c4.40,0.40 6.40,-1.60 9.40,-0.80 c4.00,1.00 7.00,3.70 10.20,8.80" fill="none" stroke="#d8481c" stroke-width="1.3"/>
<path d="M472.7,83.6 L476.9,85.6 L476.5,81.0" fill="none" stroke="#c83a18" stroke-width="1.2"/>
<path d="M452.7,63.6 c1.50,4.50 4.50,9.50 10.60,10.10 c4.40,0.40 6.40,-1.60 9.40,-0.80 c4.00,1.00 7.00,3.70 10.20,8.80" fill="none" stroke="#fcd2b8" stroke-width="3.2" stroke-linecap="round"/>
<path d="M452.7,63.6 c1.50,4.50 4.50,9.50 10.60,10.10 c4.40,0.40 6.40,-1.60 9.40,-0.80 c4.00,1.00 7.00,3.70 10.20,8.80" fill="none" stroke="#d8481c" stroke-width="1.3"/>
<path d="M479.3,80.5 L483.5,82.5 L483.1,77.9" fill="none" stroke="#c83a18" stroke-width="1.2"/>
<text x="437.5" y="43.0" font-size="8.6" fill="#d4566a" stroke="#d4566a" stroke-width="0.12" text-anchor="start" font-weight="normal" >Solar irradiation</text>
<text x="451.5" y="53.0" font-size="8.6" fill="#d4566a" stroke="#d4566a" stroke-width="0.12" text-anchor="start" font-weight="normal" >1 kW/m<tspan font-size="5.5" dy="-3">2</tspan></text>
<path d="M534.6,80.4 c3.00,-4.00 6.00,-7.50 10.00,-10.00 c4.00,-2.50 6.50,-4.00 8.70,-7.00 l3.80,-4.20" fill="none" stroke="#d2f0cc" stroke-width="3.4" stroke-linecap="round"/>
<path d="M534.6,80.4 c3.00,-4.00 6.00,-7.50 10.00,-10.00 c4.00,-2.50 6.50,-4.00 8.70,-7.00 l3.80,-4.20" fill="none" stroke="#4a9052" stroke-width="1.1" stroke-dasharray="1.2,1"/>
<path d="M553.9,59.5 L557.4,58.8 L556.8,62.4" fill="none" stroke="#4a9052" stroke-width="1"/>
<path d="M541.7,83.3 c3.00,-4.00 6.00,-7.50 10.00,-10.00 c4.00,-2.50 6.50,-4.00 8.70,-7.00 l3.80,-4.20" fill="none" stroke="#d2f0cc" stroke-width="3.4" stroke-linecap="round"/>
<path d="M541.7,83.3 c3.00,-4.00 6.00,-7.50 10.00,-10.00 c4.00,-2.50 6.50,-4.00 8.70,-7.00 l3.80,-4.20" fill="none" stroke="#4a9052" stroke-width="1.1" stroke-dasharray="1.2,1"/>
<path d="M561.0,62.4 L564.5,61.7 L563.9,65.3" fill="none" stroke="#4a9052" stroke-width="1"/>
<path d="M547.5,85.0 c2.70,-3.60 5.40,-6.75 9.00,-9.00 c3.60,-2.25 5.85,-3.60 7.83,-6.30 l3.42,-3.78" fill="none" stroke="#d2f0cc" stroke-width="3.4" stroke-linecap="round"/>
<path d="M547.5,85.0 c2.70,-3.60 5.40,-6.75 9.00,-9.00 c3.60,-2.25 5.85,-3.60 7.83,-6.30 l3.42,-3.78" fill="none" stroke="#4a9052" stroke-width="1.1" stroke-dasharray="1.2,1"/>
<path d="M564.5,66.2 L568.0,65.5 L567.5,69.1" fill="none" stroke="#4a9052" stroke-width="1"/>
<text x="542.5" y="42.8" font-size="8.6" fill="#4cb07c" stroke="#4cb07c" stroke-width="0.12" text-anchor="start" font-weight="normal" >Heat radiation</text>
<text x="546.5" y="52.8" font-size="8.6" fill="#4cb07c" stroke="#4cb07c" stroke-width="0.12" text-anchor="start" font-weight="normal" >2.27 kW/m<tspan font-size="5.5" dy="-3">2</tspan></text>
<text x="495.0" y="77.0" font-size="8.5" fill="#333" stroke="#333" stroke-width="0.15" text-anchor="start" font-weight="normal" >200 °C</text>
<defs><radialGradient id="ball" cx="0.4" cy="0.35" r="0.65"><stop offset="0" stop-color="#3a3aff"/><stop offset="0.7" stop-color="#1010d8"/><stop offset="1" stop-color="#00008a"/></radialGradient></defs>
<circle cx="461" cy="93.3" r="7.6" fill="url(#ball)"/>
<circle cx="480.5" cy="93.3" r="7.6" fill="url(#ball)"/>
<circle cx="503.2" cy="93.3" r="7.6" fill="url(#ball)"/>
<circle cx="526" cy="93.3" r="7.6" fill="url(#ball)"/>
<circle cx="548.7" cy="93.3" r="7.6" fill="url(#ball)"/>
<line x1="503.7" y1="124.5" x2="503.7" y2="109" stroke="#d070b4" stroke-width="1.2"/>
<path d="M500.8,111.5 L503.7,106.8 L506.6,111.5 Z" fill="#d070b4"/>
<text x="489.0" y="135.0" font-size="8.6" fill="#4646a0" stroke="#4646a0" stroke-width="0.15" text-anchor="start" font-weight="normal" >Ni/Y<tspan font-size="5.5" dy="2.6">2</tspan><tspan dy="-2.6">O</tspan><tspan font-size="5.5" dy="2.6">3</tspan></text>
<circle cx="439.6" cy="217.1" r="8.9" fill="#fbd6bc" opacity="0.6"/>
<circle cx="439.6" cy="217.1" r="8.2" fill="#f06c1e"/>
<path d="M438.1,230.2 c1.50,4.50 4.50,9.50 10.60,10.10 c4.40,0.40 6.40,-1.60 9.40,-0.80 c4.00,1.00 7.00,3.70 10.20,8.80" fill="none" stroke="#fcd2b8" stroke-width="3.2" stroke-linecap="round"/>
<path d="M438.1,230.2 c1.50,4.50 4.50,9.50 10.60,10.10 c4.40,0.40 6.40,-1.60 9.40,-0.80 c4.00,1.00 7.00,3.70 10.20,8.80" fill="none" stroke="#d8481c" stroke-width="1.3"/>
<path d="M464.7,247.1 L468.9,249.1 L468.5,244.5" fill="none" stroke="#c83a18" stroke-width="1.2"/>
<path d="M444.6,227.7 c1.50,4.50 4.50,9.50 10.60,10.10 c4.40,0.40 6.40,-1.60 9.40,-0.80 c4.00,1.00 7.00,3.70 10.20,8.80" fill="none" stroke="#fcd2b8" stroke-width="3.2" stroke-linecap="round"/>
<path d="M444.6,227.7 c1.50,4.50 4.50,9.50 10.60,10.10 c4.40,0.40 6.40,-1.60 9.40,-0.80 c4.00,1.00 7.00,3.70 10.20,8.80" fill="none" stroke="#d8481c" stroke-width="1.3"/>
<path d="M471.2,244.6 L475.4,246.6 L475.0,242.0" fill="none" stroke="#c83a18" stroke-width="1.2"/>
<path d="M451.2,224.6 c1.50,4.50 4.50,9.50 10.60,10.10 c4.40,0.40 6.40,-1.60 9.40,-0.80 c4.00,1.00 7.00,3.70 10.20,8.80" fill="none" stroke="#fcd2b8" stroke-width="3.2" stroke-linecap="round"/>
<path d="M451.2,224.6 c1.50,4.50 4.50,9.50 10.60,10.10 c4.40,0.40 6.40,-1.60 9.40,-0.80 c4.00,1.00 7.00,3.70 10.20,8.80" fill="none" stroke="#d8481c" stroke-width="1.3"/>
<path d="M477.8,241.5 L482.0,243.5 L481.6,238.9" fill="none" stroke="#c83a18" stroke-width="1.2"/>
<text x="438.0" y="203.5" font-size="8.6" fill="#d4566a" stroke="#d4566a" stroke-width="0.12" text-anchor="start" font-weight="normal" >Solar irradiation</text>
<text x="452.0" y="213.5" font-size="8.6" fill="#d4566a" stroke="#d4566a" stroke-width="0.12" text-anchor="start" font-weight="normal" >1 kW/m<tspan font-size="5.5" dy="-3">2</tspan></text>
<path d="M534.6,242.4 c3.00,-4.00 6.00,-7.50 10.00,-10.00 c4.00,-2.50 6.50,-4.00 8.70,-7.00 l3.80,-4.20" fill="none" stroke="#d2f0cc" stroke-width="3.4" stroke-linecap="round"/>
<path d="M534.6,242.4 c3.00,-4.00 6.00,-7.50 10.00,-10.00 c4.00,-2.50 6.50,-4.00 8.70,-7.00 l3.80,-4.20" fill="none" stroke="#4a9052" stroke-width="1.1" stroke-dasharray="1.2,1"/>
<path d="M553.9,221.5 L557.4,220.8 L556.8,224.4" fill="none" stroke="#4a9052" stroke-width="1"/>
<path d="M541.7,245.3 c3.00,-4.00 6.00,-7.50 10.00,-10.00 c4.00,-2.50 6.50,-4.00 8.70,-7.00 l3.80,-4.20" fill="none" stroke="#d2f0cc" stroke-width="3.4" stroke-linecap="round"/>
<path d="M541.7,245.3 c3.00,-4.00 6.00,-7.50 10.00,-10.00 c4.00,-2.50 6.50,-4.00 8.70,-7.00 l3.80,-4.20" fill="none" stroke="#4a9052" stroke-width="1.1" stroke-dasharray="1.2,1"/>
<path d="M561.0,224.4 L564.5,223.7 L563.9,227.3" fill="none" stroke="#4a9052" stroke-width="1"/>
<path d="M547.5,247.0 c2.70,-3.60 5.40,-6.75 9.00,-9.00 c3.60,-2.25 5.85,-3.60 7.83,-6.30 l3.42,-3.78" fill="none" stroke="#d2f0cc" stroke-width="3.4" stroke-linecap="round"/>
<path d="M547.5,247.0 c2.70,-3.60 5.40,-6.75 9.00,-9.00 c3.60,-2.25 5.85,-3.60 7.83,-6.30 l3.42,-3.78" fill="none" stroke="#4a9052" stroke-width="1.1" stroke-dasharray="1.2,1"/>
<path d="M564.5,228.2 L568.0,227.5 L567.5,231.1" fill="none" stroke="#4a9052" stroke-width="1"/>
<text x="541.6" y="203.5" font-size="8.6" fill="#4cb07c" stroke="#4cb07c" stroke-width="0.12" text-anchor="start" font-weight="normal" >Heat radiation</text>
<text x="545.6" y="213.5" font-size="8.6" fill="#4cb07c" stroke="#4cb07c" stroke-width="0.12" text-anchor="start" font-weight="normal" >0.21 kW/m<tspan font-size="5.5" dy="-3">2</tspan></text>
<text x="493.5" y="237.5" font-size="8.5" fill="#222" stroke="#222" stroke-width="0.15" text-anchor="start" font-weight="normal" >200 °C</text>
<rect x="433.5" y="248" width="136.5" height="12.3" fill="#1aec1a"/>
<line x1="433.5" y1="259.8" x2="570" y2="259.8" stroke="#14a814" stroke-width="1"/>
<line x1="569.5" y1="248" x2="569.5" y2="260.3" stroke="#0a6a0a" stroke-width="1.2"/>
<line x1="502.5" y1="280" x2="502.5" y2="262" stroke="#b82838" stroke-width="1.1"/>
<path d="M500,266 L502.5,261.5 L505,266" fill="none" stroke="#c02838" stroke-width="1.1"/>
<text x="457.5" y="290.0" font-size="8.6" fill="#c83848" stroke="#c83848" stroke-width="0.15" text-anchor="start" font-weight="normal" >Selective light absorber</text>
<circle cx="90.4" cy="387.4" r="37" fill="#a2a6aa"/>
<circle cx="90.4" cy="387.4" r="33.6" fill="#3ec2ee"/>
<circle cx="90.7" cy="387.09999999999997" r="27.8" fill="#f6c836"/>
<circle cx="90.7" cy="387.09999999999997" r="21.2" fill="#b0a8b0"/>
<circle cx="90.7" cy="387.09999999999997" r="20.6" fill="#e26ccc"/>
<circle cx="90.4" cy="386.4" r="15.6" fill="#ffffff"/>
<path d="M43.0,367.4 c1,3 2.5,6.5 6.5,7.2 c3,0.5 5,0.5 7,1.5 c2.5,1.2 4,3.5 5.5,6.5" fill="none" stroke="#fcd2b8" stroke-width="2.6" stroke-linecap="round"/>
<path d="M43.0,367.4 c1,3 2.5,6.5 6.5,7.2 c3,0.5 5,0.5 7,1.5 c2.5,1.2 4,3.5 5.5,6.5" fill="none" stroke="#d8481c" stroke-width="1"/>
<path d="M46.5,365.0 c1,3 2.5,6.5 6.5,7.2 c3,0.5 5,0.5 7,1.5 c2.5,1.2 4,3.5 5.5,6.5" fill="none" stroke="#fcd2b8" stroke-width="2.6" stroke-linecap="round"/>
<path d="M46.5,365.0 c1,3 2.5,6.5 6.5,7.2 c3,0.5 5,0.5 7,1.5 c2.5,1.2 4,3.5 5.5,6.5" fill="none" stroke="#d8481c" stroke-width="1"/>
<path d="M50.0,363.5 c1,3 2.5,6.5 6.5,7.2 c3,0.5 5,0.5 7,1.5 c2.5,1.2 4,3.5 5.5,6.5" fill="none" stroke="#fcd2b8" stroke-width="2.6" stroke-linecap="round"/>
<path d="M50.0,363.5 c1,3 2.5,6.5 6.5,7.2 c3,0.5 5,0.5 7,1.5 c2.5,1.2 4,3.5 5.5,6.5" fill="none" stroke="#d8481c" stroke-width="1"/>
<text x="22.0" y="355.0" font-size="7.3" fill="#d84a5a" stroke="#d84a5a" stroke-width="0.12" text-anchor="start" font-weight="normal" >Solar irradiation</text>
<text x="34.3" y="364.0" font-size="7.3" fill="#d84a5a" stroke="#d84a5a" stroke-width="0.12" text-anchor="start" font-weight="normal" >1 kW/m<tspan font-size="5" dy="-2.5">2</tspan></text>
<text x="126.0" y="355.0" font-size="7.3" fill="#50b878" stroke="#50b878" stroke-width="0.12" text-anchor="start" font-weight="normal" >Heat radiation</text>
<text x="129.7" y="364.0" font-size="7.3" fill="#50b878" stroke="#50b878" stroke-width="0.12" text-anchor="start" font-weight="normal" >0.21 kW/m<tspan font-size="5" dy="-2.5">2</tspan></text>
<line x1="110.7" y1="367" x2="124" y2="358.8" stroke="#50b878" stroke-width="0.8"/>
<path d="M121.5,358.5 L125,358 L123,361 Z" fill="#50b878"/>
<text x="121.0" y="376.2" font-size="7.3" fill="#4c3c9c" stroke="#4c3c9c" stroke-width="0.12" text-anchor="start" font-weight="normal" >Heat conduction</text>
<line x1="131" y1="378.5" x2="121" y2="386" stroke="#6a58b8" stroke-width="1.5"/>
<path d="M118,389 L124.5,386.5 M119.5,382.5 L121.5,389.5" stroke="#1c2878" stroke-width="1.5"/>
<line x1="113" y1="392" x2="121" y2="387" stroke="#6a4a40" stroke-width="0.6"/>
<text x="142.0" y="403.0" font-size="7.3" fill="#7c7c7c" stroke="#7c7c7c" stroke-width="0.12" text-anchor="start" font-weight="normal" >Quartz</text>
<polyline points="112,396 140.5,400.3 124.6,403" fill="none" stroke="#787878" stroke-width="0.8"/>
<text x="126.8" y="421.0" font-size="7.3" fill="#40a0dc" stroke="#40a0dc" stroke-width="0.12" text-anchor="start" font-weight="normal" >Vacuum layer</text>
<line x1="113.5" y1="408" x2="127.5" y2="417.5" stroke="#40a0dc" stroke-width="0.7"/>
<text x="116.3" y="429.6" font-size="7.3" fill="#b030a0" stroke="#b030a0" stroke-width="0.12" text-anchor="start" font-weight="normal" >Catalysts</text>
<line x1="91.7" y1="405" x2="114" y2="425.5" stroke="#902a9a" stroke-width="0.9"/>
<text x="24.7" y="434.6" font-size="7.3" fill="#f2b860" stroke="#f2b860" stroke-width="0.12" text-anchor="start" font-weight="normal" >AlN<tspan font-size="5" dy="2">x</tspan><tspan dy="-2"> ceramic/Al foil layer</tspan></text>
<line x1="54.2" y1="427.5" x2="70" y2="411" stroke="#f2b860" stroke-width="0.8"/>
<circle cx="73.7" cy="407" r="1.2" fill="#f09020"/>
<text x="24.7" y="449.3" font-size="7.3" fill="#2a2a5e" stroke="#2a2a5e" stroke-width="0.2" text-anchor="start" font-weight="normal" >Cross-section view</text>
<line x1="92" y1="452.5" x2="92" y2="444" stroke="#111" stroke-width="1.2"/>
<path d="M89.6,446.5 L92,441.8 L94.4,446.5 Z" fill="#111"/>
<rect x="62" y="454.7" width="61.2" height="19.9" rx="4.5" fill="#94c8f4" stroke="#4a7cc8" stroke-width="0.9"/>
<path d="M119.7,455.3 C122,459 122,470 119.7,474" fill="none" stroke="#3a74c4" stroke-width="0.7" stroke-dasharray="1.2,0.8"/>
<path d="M65.5,455.3 C63.5,459 63.5,470 65.5,474" fill="none" stroke="#5a8ad0" stroke-width="0.5"/>
<line x1="46" y1="458.5" x2="68" y2="458.5" stroke="#d04070" stroke-width="1.1" stroke-dasharray="1.2,0.9"/>
<path d="M67,456.3 L71,458.5 L67,460.7 Z" fill="#c03878"/>
<line x1="113.5" y1="458.5" x2="134" y2="458.5" stroke="#30a078" stroke-width="1.1" stroke-dasharray="1.2,0.9"/>
<path d="M133.5,456.3 L137.5,458.5 L133.5,460.7 Z" fill="#30a078"/>
<line x1="46" y1="465" x2="68" y2="465" stroke="#d04070" stroke-width="1.1" stroke-dasharray="1.2,0.9"/>
<path d="M67,462.8 L71,465 L67,467.2 Z" fill="#c03878"/>
<line x1="113.5" y1="465" x2="134" y2="465" stroke="#30a078" stroke-width="1.1" stroke-dasharray="1.2,0.9"/>
<path d="M133.5,462.8 L137.5,465 L133.5,467.2 Z" fill="#30a078"/>
<line x1="46" y1="470.8" x2="68" y2="470.8" stroke="#d04070" stroke-width="1.1" stroke-dasharray="1.2,0.9"/>
<path d="M67,468.6 L71,470.8 L67,473.0 Z" fill="#c03878"/>
<line x1="113.5" y1="470.8" x2="134" y2="470.8" stroke="#30a078" stroke-width="1.1" stroke-dasharray="1.2,0.9"/>
<path d="M133.5,468.6 L137.5,470.8 L133.5,473.0 Z" fill="#30a078"/>
<text x="39.3" y="483.5" font-size="7.3" fill="#d04a5a" stroke="#d04a5a" stroke-width="0.12" text-anchor="start" font-weight="normal" >CO<tspan font-size="5" dy="2">2</tspan><tspan dy="-2"> + H</tspan><tspan font-size="5" dy="2">2</tspan></text>
<text x="116.7" y="483.5" font-size="7.3" fill="#48b478" stroke="#48b478" stroke-width="0.12" text-anchor="start" font-weight="normal" >CH<tspan font-size="5" dy="2">4</tspan><tspan dy="-2"> + H</tspan><tspan font-size="5" dy="2">2</tspan><tspan dy="-2">O</tspan></text>
<line x1="235" y1="347" x2="235" y2="465.6" stroke="#888" stroke-width="0.8"/>
<line x1="235" y1="465.6" x2="383.5" y2="465.6" stroke="#888" stroke-width="0.8"/>
<polyline points="235,347 383.5,347 383.5,465.6" fill="none" stroke="#bdbdbd" stroke-width="0.7"/>
<line x1="232.5" y1="465.6" x2="235" y2="465.6" stroke="#888" stroke-width="0.8"/>
<text x="230.0" y="468.6" font-size="8.5" fill="#262626" stroke="#262626" stroke-width="0.3" text-anchor="end" font-weight="normal" >0</text>
<line x1="232.5" y1="447.3" x2="235" y2="447.3" stroke="#888" stroke-width="0.8"/>
<text x="230.0" y="450.3" font-size="8.5" fill="#262626" stroke="#262626" stroke-width="0.3" text-anchor="end" font-weight="normal" >50</text>
<line x1="232.5" y1="429.0" x2="235" y2="429.0" stroke="#888" stroke-width="0.8"/>
<text x="230.0" y="432.0" font-size="8.5" fill="#262626" stroke="#262626" stroke-width="0.3" text-anchor="end" font-weight="normal" >100</text>
<line x1="232.5" y1="410.7" x2="235" y2="410.7" stroke="#888" stroke-width="0.8"/>
<text x="230.0" y="413.7" font-size="8.5" fill="#262626" stroke="#262626" stroke-width="0.3" text-anchor="end" font-weight="normal" >150</text>
<line x1="232.5" y1="392.4" x2="235" y2="392.4" stroke="#888" stroke-width="0.8"/>
<text x="230.0" y="395.4" font-size="8.5" fill="#262626" stroke="#262626" stroke-width="0.3" text-anchor="end" font-weight="normal" >200</text>
<line x1="232.5" y1="374.1" x2="235" y2="374.1" stroke="#888" stroke-width="0.8"/>
<text x="230.0" y="377.1" font-size="8.5" fill="#262626" stroke="#262626" stroke-width="0.3" text-anchor="end" font-weight="normal" >250</text>
<line x1="232.5" y1="355.8" x2="235" y2="355.8" stroke="#888" stroke-width="0.8"/>
<text x="230.0" y="358.8" font-size="8.5" fill="#262626" stroke="#262626" stroke-width="0.3" text-anchor="end" font-weight="normal" >300</text>
<line x1="235.0" y1="465.6" x2="235.0" y2="468.1" stroke="#888" stroke-width="0.8"/>
<text x="235.0" y="477.9" font-size="8.5" fill="#262626" stroke="#262626" stroke-width="0.3" text-anchor="middle" font-weight="normal" >0.2</text>
<line x1="251.4" y1="465.6" x2="251.4" y2="468.1" stroke="#888" stroke-width="0.8"/>
<text x="251.4" y="477.9" font-size="8.5" fill="#262626" stroke="#262626" stroke-width="0.3" text-anchor="middle" font-weight="normal" >0.3</text>
<line x1="267.7" y1="465.6" x2="267.7" y2="468.1" stroke="#888" stroke-width="0.8"/>
<text x="267.7" y="477.9" font-size="8.5" fill="#262626" stroke="#262626" stroke-width="0.3" text-anchor="middle" font-weight="normal" >0.4</text>
<line x1="284.1" y1="465.6" x2="284.1" y2="468.1" stroke="#888" stroke-width="0.8"/>
<text x="284.1" y="477.9" font-size="8.5" fill="#262626" stroke="#262626" stroke-width="0.3" text-anchor="middle" font-weight="normal" >0.5</text>
<line x1="300.5" y1="465.6" x2="300.5" y2="468.1" stroke="#888" stroke-width="0.8"/>
<text x="300.5" y="477.9" font-size="8.5" fill="#262626" stroke="#262626" stroke-width="0.3" text-anchor="middle" font-weight="normal" >0.6</text>
<line x1="316.9" y1="465.6" x2="316.9" y2="468.1" stroke="#888" stroke-width="0.8"/>
<text x="316.9" y="477.9" font-size="8.5" fill="#262626" stroke="#262626" stroke-width="0.3" text-anchor="middle" font-weight="normal" >0.7</text>
<line x1="333.2" y1="465.6" x2="333.2" y2="468.1" stroke="#888" stroke-width="0.8"/>
<text x="333.2" y="477.9" font-size="8.5" fill="#262626" stroke="#262626" stroke-width="0.3" text-anchor="middle" font-weight="normal" >0.8</text>
<line x1="349.6" y1="465.6" x2="349.6" y2="468.1" stroke="#888" stroke-width="0.8"/>
<text x="349.6" y="477.9" font-size="8.5" fill="#262626" stroke="#262626" stroke-width="0.3" text-anchor="middle" font-weight="normal" >0.9</text>
<line x1="366.0" y1="465.6" x2="366.0" y2="468.1" stroke="#888" stroke-width="0.8"/>
<text x="366.0" y="477.9" font-size="8.5" fill="#262626" stroke="#262626" stroke-width="0.3" text-anchor="middle" font-weight="normal" >1.0</text>
<line x1="382.3" y1="465.6" x2="382.3" y2="468.1" stroke="#888" stroke-width="0.8"/>
<text x="382.3" y="477.9" font-size="8.5" fill="#262626" stroke="#262626" stroke-width="0.3" text-anchor="middle" font-weight="normal" >1.1</text>
<text x="308.8" y="492.6" font-size="8.8" fill="#262626" stroke="#262626" stroke-width="0.3" text-anchor="middle" font-weight="normal" >Light intensity (kW m<tspan font-size="5.5" dy="-3">−2</tspan><tspan dy="3">)</tspan></text>
<text transform="translate(207,408) rotate(-90)" font-size="8.5" fill="#262626" stroke="#262626" stroke-width="0.3" text-anchor="middle">Temperature (°C)</text>
<path d="M251.4,420.9 C254.1,418.2 262.3,409.8 267.7,404.5 C273.2,399.1 278.7,393.0 284.1,388.7 C289.6,384.5 295.0,381.6 300.5,378.9 C305.9,376.1 311.4,374.3 316.9,372.3 C322.3,370.3 327.8,368.3 333.2,366.8 C338.7,365.3 344.1,364.2 349.6,363.1 C355.0,362.1 363.2,361.0 366.0,360.6" fill="none" stroke="#c83040" stroke-width="0.9"/>
<rect x="249.5" y="419.0" width="3.8" height="3.8" fill="#a81424"/>
<rect x="265.8" y="402.6" width="3.8" height="3.8" fill="#a81424"/>
<rect x="282.2" y="386.8" width="3.8" height="3.8" fill="#a81424"/>
<rect x="298.6" y="377.0" width="3.8" height="3.8" fill="#a81424"/>
<rect x="315.0" y="370.4" width="3.8" height="3.8" fill="#a81424"/>
<rect x="331.3" y="364.9" width="3.8" height="3.8" fill="#a81424"/>
<rect x="347.7" y="361.2" width="3.8" height="3.8" fill="#a81424"/>
<rect x="364.1" y="358.7" width="3.8" height="3.8" fill="#a81424"/>
<polyline points="251.4,454.6 267.7,451.0 284.1,448.0 300.5,444.7 316.9,442.5 333.2,440.3 349.6,438.5 366.0,437.4" fill="none" stroke="#a6eca6" stroke-width="2.8"/>
<polyline points="251.4,454.6 267.7,451.0 284.1,448.0 300.5,444.7 316.9,442.5 333.2,440.3 349.6,438.5 366.0,437.4" fill="none" stroke="#3aa83a" stroke-width="0.8"/>
<circle cx="251.4" cy="454.6" r="2.7" fill="#86e486"/><circle cx="251.4" cy="454.6" r="1.6" fill="#2e9c2e"/>
<circle cx="267.7" cy="451.0" r="2.7" fill="#86e486"/><circle cx="267.7" cy="451.0" r="1.6" fill="#2e9c2e"/>
<circle cx="284.1" cy="448.0" r="2.7" fill="#86e486"/><circle cx="284.1" cy="448.0" r="1.6" fill="#2e9c2e"/>
<circle cx="300.5" cy="444.7" r="2.7" fill="#86e486"/><circle cx="300.5" cy="444.7" r="1.6" fill="#2e9c2e"/>
<circle cx="316.9" cy="442.5" r="2.7" fill="#86e486"/><circle cx="316.9" cy="442.5" r="1.6" fill="#2e9c2e"/>
<circle cx="333.2" cy="440.3" r="2.7" fill="#86e486"/><circle cx="333.2" cy="440.3" r="1.6" fill="#2e9c2e"/>
<circle cx="349.6" cy="438.5" r="2.7" fill="#86e486"/><circle cx="349.6" cy="438.5" r="1.6" fill="#2e9c2e"/>
<circle cx="366.0" cy="437.4" r="2.7" fill="#86e486"/><circle cx="366.0" cy="437.4" r="1.6" fill="#2e9c2e"/>
<line x1="238" y1="355.8" x2="254" y2="355.8" stroke="#c83040" stroke-width="0.9"/>
<rect x="244" y="353.8" width="4" height="4" fill="#a01020"/>
<text x="258.0" y="358.0" font-size="7.8" fill="#c85060" stroke="#c85060" stroke-width="0.12" text-anchor="start" font-weight="normal" >Ni/Y<tspan font-size="5.2" dy="2.5">2</tspan><tspan dy="-2.5">O</tspan><tspan font-size="5.2" dy="2.5">3</tspan><tspan dy="-2.5"> + S</tspan></text>
<line x1="238" y1="372.5" x2="254" y2="372.5" stroke="#a6eca6" stroke-width="2.6"/>
<line x1="238" y1="372.5" x2="254" y2="372.5" stroke="#3aa83a" stroke-width="0.8"/>
<circle cx="246" cy="372.5" r="2.6" fill="#86e486"/><circle cx="246" cy="372.5" r="1.5" fill="#2e9c2e"/>
<text x="258.0" y="374.7" font-size="7.8" fill="#58c460" stroke="#58c460" stroke-width="0.12" text-anchor="start" font-weight="normal" >Ni/Y<tspan font-size="5.2" dy="2.5">2</tspan><tspan dy="-2.5">O</tspan><tspan font-size="5.2" dy="2.5">3</tspan></text>
<line x1="431.5" y1="347.5" x2="431.5" y2="465" stroke="#888" stroke-width="0.8"/>
<line x1="431.5" y1="465" x2="580" y2="465" stroke="#888" stroke-width="0.8"/>
<polyline points="431.5,347.5 580,347.5 580,465" fill="none" stroke="#bdbdbd" stroke-width="0.7"/>
<line x1="429.0" y1="456.0" x2="431.5" y2="456.0" stroke="#888" stroke-width="0.8"/>
<text x="426.5" y="459.0" font-size="8.5" fill="#262626" stroke="#262626" stroke-width="0.3" text-anchor="end" font-weight="normal" >0</text>
<line x1="429.0" y1="437.9" x2="431.5" y2="437.9" stroke="#888" stroke-width="0.8"/>
<text x="426.5" y="440.9" font-size="8.5" fill="#262626" stroke="#262626" stroke-width="0.3" text-anchor="end" font-weight="normal" >20</text>
<line x1="429.0" y1="419.8" x2="431.5" y2="419.8" stroke="#888" stroke-width="0.8"/>
<text x="426.5" y="422.8" font-size="8.5" fill="#262626" stroke="#262626" stroke-width="0.3" text-anchor="end" font-weight="normal" >40</text>
<line x1="429.0" y1="401.8" x2="431.5" y2="401.8" stroke="#888" stroke-width="0.8"/>
<text x="426.5" y="404.8" font-size="8.5" fill="#262626" stroke="#262626" stroke-width="0.3" text-anchor="end" font-weight="normal" >60</text>
<line x1="429.0" y1="383.7" x2="431.5" y2="383.7" stroke="#888" stroke-width="0.8"/>
<text x="426.5" y="386.7" font-size="8.5" fill="#262626" stroke="#262626" stroke-width="0.3" text-anchor="end" font-weight="normal" >80</text>
<line x1="429.0" y1="365.6" x2="431.5" y2="365.6" stroke="#888" stroke-width="0.8"/>
<text x="426.5" y="368.6" font-size="8.5" fill="#262626" stroke="#262626" stroke-width="0.3" text-anchor="end" font-weight="normal" >100</text>
<line x1="429.0" y1="347.5" x2="431.5" y2="347.5" stroke="#888" stroke-width="0.8"/>
<text x="426.5" y="350.5" font-size="8.5" fill="#262626" stroke="#262626" stroke-width="0.3" text-anchor="end" font-weight="normal" >120</text>
<line x1="431.5" y1="465" x2="431.5" y2="467.5" stroke="#888" stroke-width="0.8"/>
<text x="431.5" y="477.3" font-size="8.5" fill="#262626" stroke="#262626" stroke-width="0.3" text-anchor="middle" font-weight="normal" >0.2</text>
<line x1="447.8" y1="465" x2="447.8" y2="467.5" stroke="#888" stroke-width="0.8"/>
<text x="447.8" y="477.3" font-size="8.5" fill="#262626" stroke="#262626" stroke-width="0.3" text-anchor="middle" font-weight="normal" >0.3</text>
<line x1="464.1" y1="465" x2="464.1" y2="467.5" stroke="#888" stroke-width="0.8"/>
<text x="464.1" y="477.3" font-size="8.5" fill="#262626" stroke="#262626" stroke-width="0.3" text-anchor="middle" font-weight="normal" >0.4</text>
<line x1="480.4" y1="465" x2="480.4" y2="467.5" stroke="#888" stroke-width="0.8"/>
<text x="480.4" y="477.3" font-size="8.5" fill="#262626" stroke="#262626" stroke-width="0.3" text-anchor="middle" font-weight="normal" >0.5</text>
<line x1="496.7" y1="465" x2="496.7" y2="467.5" stroke="#888" stroke-width="0.8"/>
<text x="496.7" y="477.3" font-size="8.5" fill="#262626" stroke="#262626" stroke-width="0.3" text-anchor="middle" font-weight="normal" >0.6</text>
<line x1="513.0" y1="465" x2="513.0" y2="467.5" stroke="#888" stroke-width="0.8"/>
<text x="513.0" y="477.3" font-size="8.5" fill="#262626" stroke="#262626" stroke-width="0.3" text-anchor="middle" font-weight="normal" >0.7</text>
<line x1="529.3" y1="465" x2="529.3" y2="467.5" stroke="#888" stroke-width="0.8"/>
<text x="529.3" y="477.3" font-size="8.5" fill="#262626" stroke="#262626" stroke-width="0.3" text-anchor="middle" font-weight="normal" >0.8</text>
<line x1="545.6" y1="465" x2="545.6" y2="467.5" stroke="#888" stroke-width="0.8"/>
<text x="545.6" y="477.3" font-size="8.5" fill="#262626" stroke="#262626" stroke-width="0.3" text-anchor="middle" font-weight="normal" >0.9</text>
<line x1="561.9" y1="465" x2="561.9" y2="467.5" stroke="#888" stroke-width="0.8"/>
<text x="561.9" y="477.3" font-size="8.5" fill="#262626" stroke="#262626" stroke-width="0.3" text-anchor="middle" font-weight="normal" >1.0</text>
<line x1="578.2" y1="465" x2="578.2" y2="467.5" stroke="#888" stroke-width="0.8"/>
<text x="578.2" y="477.3" font-size="8.5" fill="#262626" stroke="#262626" stroke-width="0.3" text-anchor="middle" font-weight="normal" >1.1</text>
<text x="505.2" y="492.6" font-size="8.8" fill="#262626" stroke="#262626" stroke-width="0.3" text-anchor="middle" font-weight="normal" >Light intensity (kW m<tspan font-size="5.5" dy="-3">−2</tspan><tspan dy="3">)</tspan></text>
<text transform="translate(407.5,408) rotate(-90)" font-size="8.5" fill="#262626" stroke="#262626" stroke-width="0.3" text-anchor="middle">CO<tspan font-size="5.5" dy="2">2</tspan><tspan dy="-2"> conversion (%)</tspan></text>
<path d="M480.4,456.0 C483.1,455.5 491.3,455.1 496.7,453.3 C502.1,451.5 507.6,450.0 513.0,445.2 C518.4,440.3 523.9,432.6 529.3,424.4 C534.7,416.1 540.2,402.2 545.6,395.4 C551.0,388.7 559.2,385.6 561.9,383.7" fill="none" stroke="#c83040" stroke-width="0.9"/>
<rect x="478.5" y="454.1" width="3.8" height="3.8" fill="#a81424"/>
<rect x="494.8" y="451.4" width="3.8" height="3.8" fill="#a81424"/>
<rect x="511.1" y="443.3" width="3.8" height="3.8" fill="#a81424"/>
<rect x="527.4" y="422.5" width="3.8" height="3.8" fill="#a81424"/>
<rect x="543.7" y="393.5" width="3.8" height="3.8" fill="#a81424"/>
<rect x="560.0" y="381.8" width="3.8" height="3.8" fill="#a81424"/>
<polyline points="447.8,456.0 464.1,456.0 480.4,456.0 496.7,456.0 513.0,456.0 529.3,456.0 545.6,456.0 561.9,456.0" fill="none" stroke="#a6eca6" stroke-width="2.8"/>
<polyline points="447.8,456.0 464.1,456.0 480.4,456.0 496.7,456.0 513.0,456.0 529.3,456.0 545.6,456.0 561.9,456.0" fill="none" stroke="#3aa83a" stroke-width="0.8"/>
<circle cx="447.8" cy="456.0" r="2.7" fill="#86e486"/><circle cx="447.8" cy="456.0" r="1.6" fill="#2e9c2e"/>
<circle cx="464.1" cy="456.0" r="2.7" fill="#86e486"/><circle cx="464.1" cy="456.0" r="1.6" fill="#2e9c2e"/>
<circle cx="480.4" cy="456.0" r="2.7" fill="#86e486"/><circle cx="480.4" cy="456.0" r="1.6" fill="#2e9c2e"/>
<circle cx="496.7" cy="456.0" r="2.7" fill="#86e486"/><circle cx="496.7" cy="456.0" r="1.6" fill="#2e9c2e"/>
<circle cx="513.0" cy="456.0" r="2.7" fill="#86e486"/><circle cx="513.0" cy="456.0" r="1.6" fill="#2e9c2e"/>
<circle cx="529.3" cy="456.0" r="2.7" fill="#86e486"/><circle cx="529.3" cy="456.0" r="1.6" fill="#2e9c2e"/>
<circle cx="545.6" cy="456.0" r="2.7" fill="#86e486"/><circle cx="545.6" cy="456.0" r="1.6" fill="#2e9c2e"/>
<circle cx="561.9" cy="456.0" r="2.7" fill="#86e486"/><circle cx="561.9" cy="456.0" r="1.6" fill="#2e9c2e"/>
<line x1="435" y1="356.7" x2="451" y2="356.7" stroke="#c83040" stroke-width="0.9"/>
<rect x="441" y="354.7" width="4" height="4" fill="#a01020"/>
<text x="455.0" y="358.9" font-size="7.8" fill="#c85060" stroke="#c85060" stroke-width="0.12" text-anchor="start" font-weight="normal" >Ni/Y<tspan font-size="5.2" dy="2.5">2</tspan><tspan dy="-2.5">O</tspan><tspan font-size="5.2" dy="2.5">3</tspan><tspan dy="-2.5"> + S</tspan></text>
<line x1="435" y1="374.5" x2="451" y2="374.5" stroke="#a6eca6" stroke-width="2.6"/>
<line x1="435" y1="374.5" x2="451" y2="374.5" stroke="#3aa83a" stroke-width="0.8"/>
<circle cx="443" cy="374.5" r="2.6" fill="#86e486"/><circle cx="443" cy="374.5" r="1.5" fill="#2e9c2e"/>
<text x="455.0" y="376.7" font-size="7.8" fill="#58c460" stroke="#58c460" stroke-width="0.12" text-anchor="start" font-weight="normal" >Ni/Y<tspan font-size="5.2" dy="2.5">2</tspan><tspan dy="-2.5">O</tspan><tspan font-size="5.2" dy="2.5">3</tspan></text>
</svg></body></html>
